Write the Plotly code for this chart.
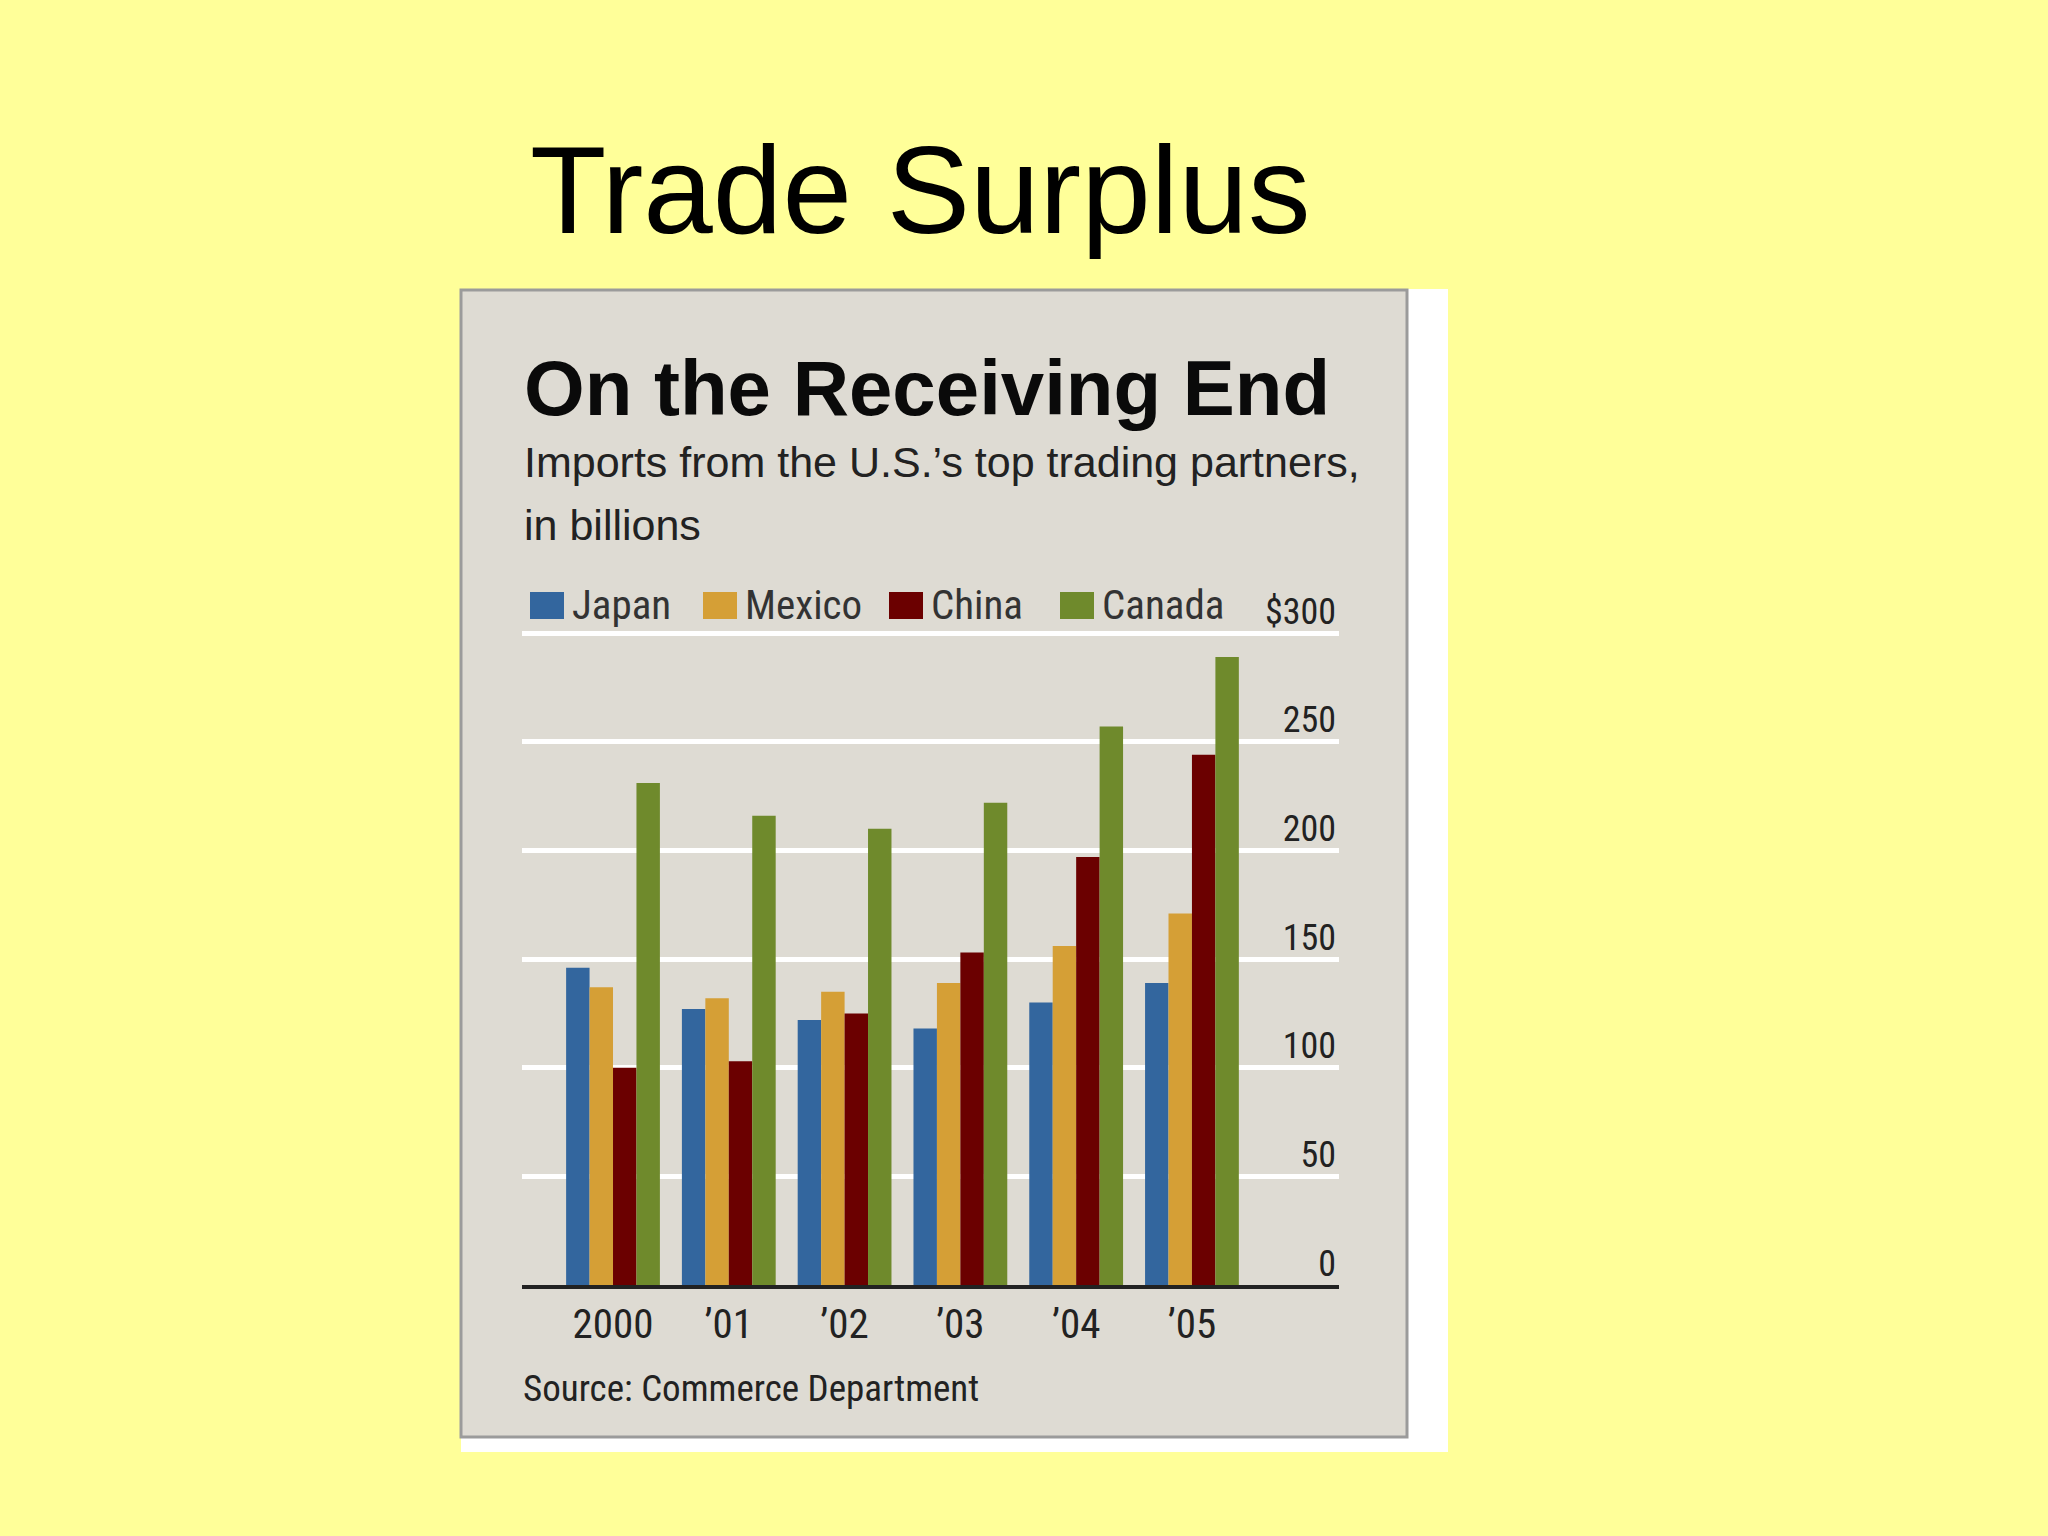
import plotly.graph_objects as go

# data (imports, $ billions)
years = ["2000", "’01", "’02", "’03", "’04", "’05"]
japan = [146, 127, 122, 118, 130, 139]
mexico = [137, 132, 135, 139, 156, 171]
china = [100, 103, 125, 153, 197, 244]
canada = [231, 216, 210, 222, 257, 289]

series_names = ["Japan", "Mexico", "China", "Canada"]
series_values = [japan, mexico, china, canada]
series_colors = ["#33669e", "#d59f36", "#6b0000", "#6f8a2c"]

y_tickvals = [0, 50, 100, 150, 200, 250, 300]
y_ticktext = ["0", "50", "100", "150", "200", "250", "$300"]

# page geometry (pixels)
W, H = 2048, 1536
ML, MR, MT, MB = 522, 709, 568, 251
PW, PH = W - ML - MR, H - MT - MB


def px(x):
    return (x - ML) / PW


def py(y):
    return (H - MB - y) / PH


NARROW = "Roboto Condensed, DejaVu Sans Condensed, sans-serif"
SANS = "Liberation Sans, Arial, sans-serif"

fig = go.Figure()
for name, vals, col in zip(series_names, series_values, series_colors):
    fig.add_trace(go.Bar(x=years, y=vals, name=name,
                         marker=dict(color=col, line=dict(width=0))))

shapes = [
    # white backing strip and grey panel
    dict(type="rect", xref="paper", yref="paper", layer="below",
         x0=px(461), x1=px(1448), y0=py(1452), y1=py(289),
         fillcolor="white", line=dict(width=0)),
    dict(type="rect", xref="paper", yref="paper", layer="below",
         x0=px(461), x1=px(1407), y0=py(1437), y1=py(290),
         fillcolor="#dedbd3", line=dict(color="#9b9b9b", width=3)),
]

annotations = [
    dict(text="Trade Surplus", x=px(920), y=py(189), xanchor="center",
         yanchor="middle", font=dict(family=SANS, size=125, color="black")),
    dict(text="<b>On the Receiving End</b>", x=px(522), y=py(388),
         xanchor="left", yanchor="middle",
         font=dict(family=SANS, size=78, color="#0a0a0a")),
    dict(text="Imports from the U.S.’s top trading partners,", x=px(522),
         y=py(462), xanchor="left", yanchor="middle",
         font=dict(family=SANS, size=43, color="#222")),
    dict(text="in billions", x=px(522), y=py(525), xanchor="left",
         yanchor="middle", font=dict(family=SANS, size=43, color="#222")),
    dict(text="Source: Commerce Department", x=px(521), y=py(1388),
         xanchor="left", yanchor="middle",
         font=dict(family=NARROW, size=37, color="#222")),
]

# hand-drawn legend with large squares
legend_x = [530, 703, 889, 1060]
for lx, name, col in zip(legend_x, series_names, series_colors):
    shapes.append(dict(type="rect", xref="paper", yref="paper",
                       x0=px(lx), x1=px(lx + 34), y0=py(619), y1=py(592),
                       fillcolor=col, line=dict(width=0)))
    annotations.append(dict(text=name, x=px(lx + 40), y=py(605),
                            xanchor="left", yanchor="middle",
                            font=dict(family=NARROW, size=41, color="#333")))

for a in annotations:
    a.update(xref="paper", yref="paper", showarrow=False)

fig.update_layout(
    width=W, height=H, autosize=False,
    margin=dict(l=ML, r=MR, t=MT, b=MB, pad=0),
    paper_bgcolor="#ffff99",
    plot_bgcolor="rgba(0,0,0,0)",
    barmode="group", bargap=0.19, bargroupgap=0,
    showlegend=False,
    shapes=shapes,
    annotations=annotations,
    xaxis=dict(type="category", range=[-0.786, 6.27], showgrid=False,
               showline=True, linecolor="#222", linewidth=4, ticks="",
               zeroline=False, ticklabelstandoff=0,
               tickfont=dict(family=NARROW, size=41, color="#222")),
    yaxis=dict(range=[0, 330], side="right", tickvals=y_tickvals,
               ticktext=y_ticktext, ticklabelposition="inside",
               ticklabelshift=-22, ticks="", showgrid=True,
               gridcolor="white", gridwidth=5, zeroline=False,
               showline=False,
               tickfont=dict(family=NARROW, size=36, color="#222")),
)

fig.write_html("out.html", config={"displayModeBar": False},
               post_script="document.body.style.margin='0';")
